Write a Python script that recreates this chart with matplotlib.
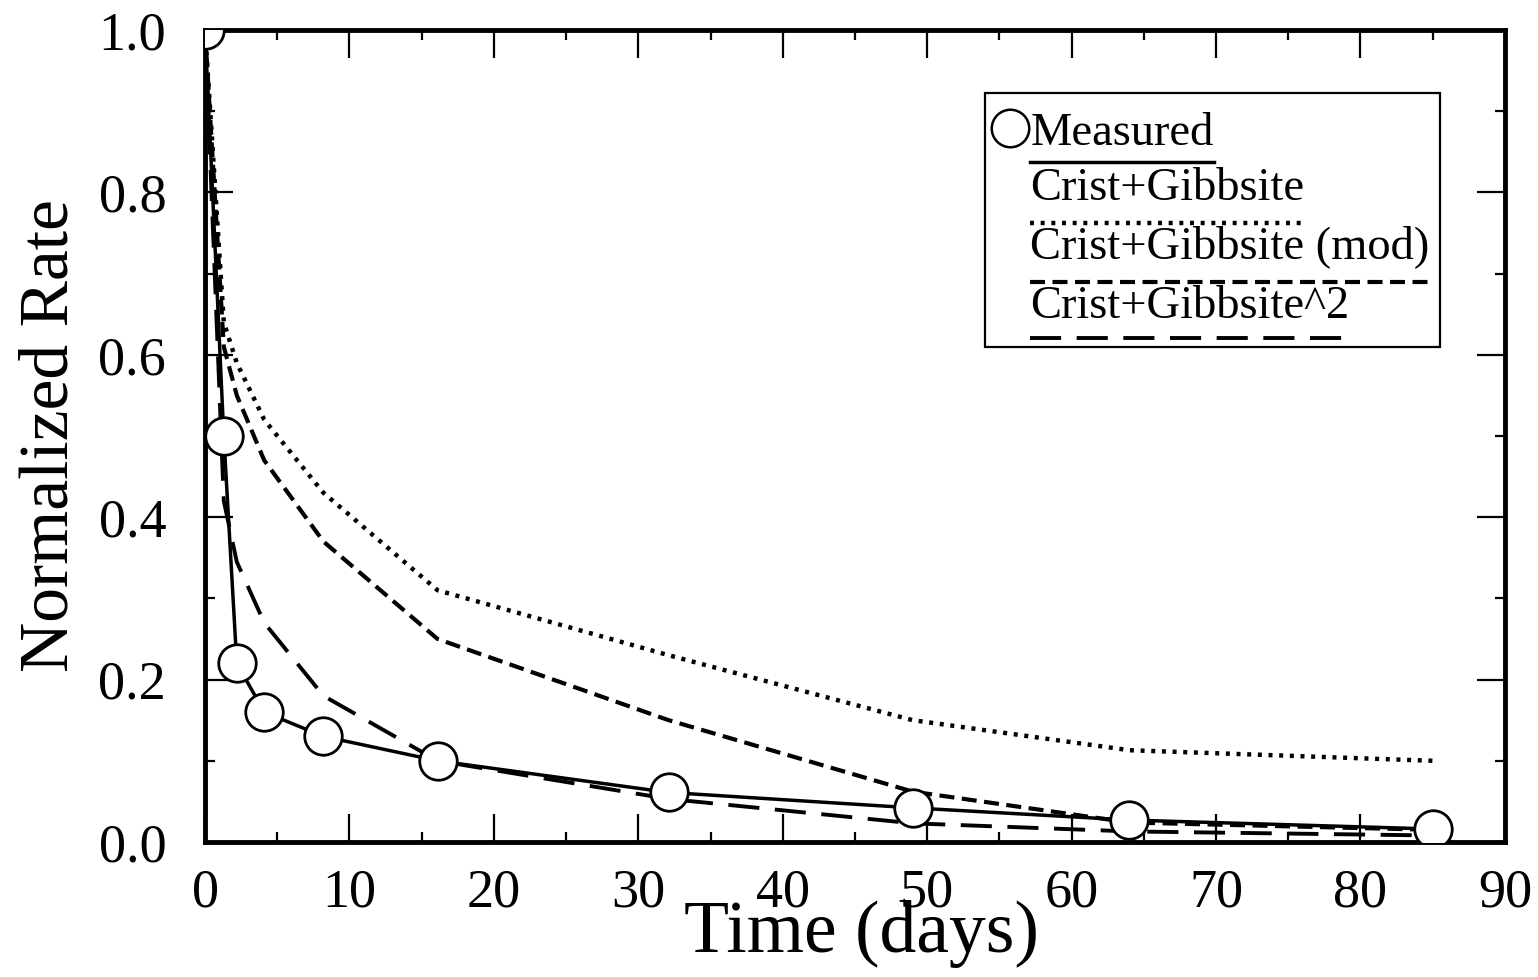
import numpy as np
import matplotlib
matplotlib.use('Agg')
import matplotlib.pyplot as plt
from matplotlib.patches import Rectangle
from matplotlib.lines import Line2D
from matplotlib.ticker import MultipleLocator

SERIF = ['Liberation Serif', 'DejaVu Serif']
plt.rcParams['font.family'] = SERIF

# days after start
time_days = [0, 1.3, 2.2, 4.1, 8.2, 16.1, 32.1, 49, 64, 85]

rate_measured = [1.0, 0.50, 0.22, 0.16, 0.13, 0.10, 0.061, 0.042, 0.027, 0.016]
rate_cg = [1.0, 0.64, 0.59, 0.52, 0.43, 0.31, 0.23, 0.15, 0.113, 0.10]
rate_cg_mod = [1.0, 0.61, 0.55, 0.47, 0.37, 0.25, 0.15, 0.062, 0.024, 0.015]
rate_cg_sq = [1.0, 0.42, 0.345, 0.27, 0.18, 0.10, 0.053, 0.023, 0.013, 0.008]

labels = ['Measured', 'Crist+Gibbsite', 'Crist+Gibbsite (mod)', 'Crist+Gibbsite^2']

styles = {
    'solid': dict(color='black', lw=2.5, ls='-'),
    'dotted': dict(color='black', lw=3.2, ls=(0, (0.9, 1.5))),
    'dashed': dict(color='black', lw=3.0, ls=(0, (3.6, 1.8))),
    'long': dict(color='black', lw=2.8, ls=(0, (8.0, 4.0))),
}

fig = plt.figure(figsize=(15.38, 9.77), dpi=100)
ax = fig.add_axes([0.1333, 0.1382, 0.8452, 0.8311])

ax.plot(time_days, rate_cg, **styles['dotted'])
ax.plot(time_days, rate_cg_mod, **styles['dashed'])
ax.plot(time_days, rate_cg_sq, **styles['long'])
ax.plot(time_days, rate_measured, marker='o', ms=27, mfc='white', mec='black',
        mew=2.0, zorder=5, **styles['solid'])

ax.set_xlim(0, 90)
ax.set_ylim(0, 1.0)
ax.xaxis.set_major_locator(MultipleLocator(10))
ax.xaxis.set_minor_locator(MultipleLocator(5))
ax.yaxis.set_major_locator(MultipleLocator(0.2))
ax.yaxis.set_minor_locator(MultipleLocator(0.1))
ax.yaxis.set_major_formatter(plt.FuncFormatter(lambda v, p: f'{v:.1f}'))

ax.tick_params(which='both', direction='in', top=True, right=True, width=1.6,
               labelsize=39)
ax.tick_params(which='major', length=20)
ax.tick_params(which='minor', length=7)
ax.tick_params(axis='x', pad=19)
ax.tick_params(axis='y', pad=28)
for sp in ax.spines.values():
    sp.set_linewidth(3.5)

ax.set_xlabel('Time (days)', fontsize=53)
ax.set_ylabel('Normalized Rate', fontsize=50)
ax.xaxis.set_label_coords(0.505, -0.072)
ax.yaxis.set_label_coords(-0.094, 0.50)

# legend: each label sits above its own line sample
box = Rectangle((0.600, 0.610), 0.350, 0.312, transform=ax.transAxes,
                facecolor='white', edgecolor='black', lw=1.6, zorder=10)
ax.add_patch(box)

text_x = 0.635
text_y = [0.858, 0.791, 0.719, 0.645]
line_y = [0.837, 0.762, 0.690, 0.621]
keys = ['solid', 'dotted', 'dashed', 'long']

texts = []
for lab, ty in zip(labels, text_y):
    texts.append(ax.text(text_x, ty, lab, transform=ax.transAxes, fontsize=33.5,
                         va='baseline', ha='left', zorder=11))

ax.add_line(Line2D([0.619], [0.879], transform=ax.transAxes, marker='o', ms=27,
                   mfc='white', mec='black', mew=1.8, ls='none', zorder=11))

fig.canvas.draw()
renderer = fig.canvas.get_renderer()
inv = ax.transAxes.inverted()
for t, ly, k in zip(texts, line_y, keys):
    bb = t.get_window_extent(renderer)
    x1 = inv.transform((bb.x1, bb.y0))[0]
    ax.add_line(Line2D([text_x, x1], [ly, ly], transform=ax.transAxes,
                       zorder=11, **styles[k]))

fig.savefig('out.png', dpi=100)
